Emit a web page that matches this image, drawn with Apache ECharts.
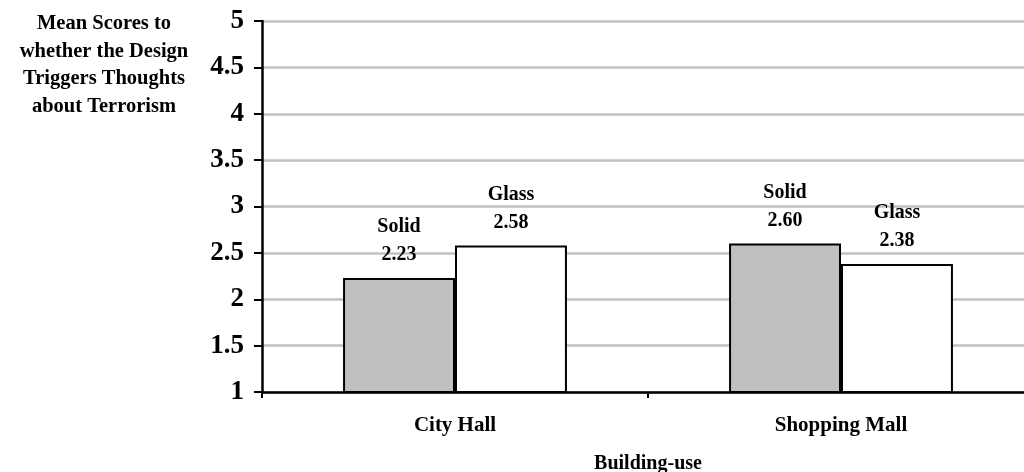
<!DOCTYPE html>
<html>
<head>
<meta charset="utf-8">
<script src="https://cdn.jsdelivr.net/npm/echarts@6/dist/echarts.min.js"></script>
<style>
  html, body { margin: 0; padding: 0; background: #ffffff; overflow: hidden; }
  /* the plot runs slightly past the right edge of the window */
  #chart { width: 1034px; height: 472px; }
</style>
</head>
<body>
<div id="chart"></div>
<script>
// Mean scores by building use and facade type
const categories = ['City Hall', 'Shopping Mall'];
const solidValues = [2.23, 2.60];
const glassValues = [2.58, 2.38];
const yTicks = { min: 1, max: 5, interval: 0.5 };

const serif = 'Liberation Serif, Times New Roman, serif';

const labelStyle = {
  show: true,
  position: 'top',
  distance: 9,
  fontFamily: serif,
  fontWeight: 'bold',
  fontSize: 20,
  lineHeight: 28,
  color: '#000',
  formatter: p => p.seriesName + '\n' + p.value.toFixed(2)
};

const chart = echarts.init(document.getElementById('chart'), null, { renderer: 'canvas' });
chart.setOption({
  backgroundColor: '#ffffff',
  animation: false,
  title: {
    text: 'Mean Scores to\nwhether the Design\nTriggers Thoughts\nabout Terrorism',
    left: 99,
    top: 5,
    textAlign: 'center',
    textStyle: {
      fontFamily: serif,
      fontWeight: 'bold',
      fontSize: 20.5,
      lineHeight: 27.5,
      color: '#000'
    }
  },
  grid: {
    left: 262, top: 21, right: 0, height: 371,
    containLabel: false,
    outerBoundsMode: 'none'
  },
  xAxis: {
    type: 'category',
    data: categories,
    name: 'Building-use',
    nameLocation: 'middle',
    nameGap: 62,
    nameTextStyle: { fontFamily: serif, fontWeight: 'bold', fontSize: 20, color: '#000' },
    axisLine: { lineStyle: { color: '#000', width: 2.5 } },
    axisTick: { show: true, length: 6, lineStyle: { color: '#000', width: 2 } },
    axisLabel: { margin: 23, fontFamily: serif, fontWeight: 'bold', fontSize: 21, color: '#000' },
    splitLine: { show: false }
  },
  yAxis: {
    type: 'value',
    min: yTicks.min,
    max: yTicks.max,
    interval: yTicks.interval,
    axisLine: { show: true, lineStyle: { color: '#000', width: 2.5 } },
    axisTick: { show: true, length: 8, lineStyle: { color: '#000', width: 2 } },
    axisLabel: { margin: 18, fontFamily: serif, fontWeight: 'bold', fontSize: 27, color: '#000' },
    splitLine: { show: true, lineStyle: { color: '#c0c0c0', width: 2.5 } }
  },
  series: [
    {
      name: 'Solid',
      type: 'bar',
      data: solidValues,
      barGap: '0%',
      barCategoryGap: '42%',
      itemStyle: { color: '#c0c0c0', borderColor: '#000', borderWidth: 2 },
      label: labelStyle
    },
    {
      name: 'Glass',
      type: 'bar',
      data: glassValues,
      barGap: '0%',
      barCategoryGap: '42%',
      itemStyle: { color: '#ffffff', borderColor: '#000', borderWidth: 2 },
      label: labelStyle
    }
  ]
});
</script>
</body>
</html>
